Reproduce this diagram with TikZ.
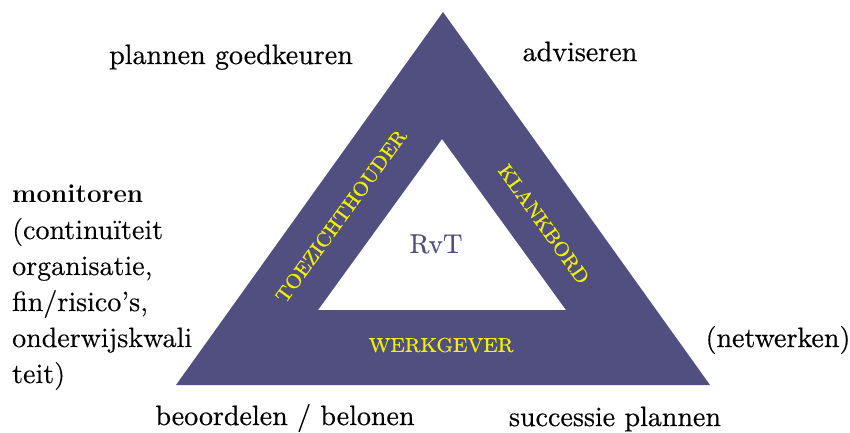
\documentclass[tikz,border=0pt]{standalone}
\usepackage{fontspec}
\newfontfamily\semib{lmroman10-regular.otf}[FakeBold=0.5]
\newfontfamily\regf{lmroman10-regular.otf}[FakeBold=0.2]
\definecolor{rvtpurple}{HTML}{504F7F}
\definecolor{rvtyellow}{HTML}{F2F200}
\newcommand{\bandtext}[1]{\scalebox{1.06}[1]{#1}}
\tikzset{
  lbl/.style={font=\semib\fontsize{28}{30}\selectfont, text=black, inner sep=0pt, anchor=base},
  band/.style={font=\semib\fontsize{20}{22}\selectfont, text=rvtyellow, inner sep=0pt},
  sidel/.style={font=\regf\fontsize{28}{30}\selectfont, text=black, inner sep=0pt, anchor=base west}
}
\begin{document}
\begin{tikzpicture}[x=1pt,y=-1pt]
\useasboundingbox (0,0) rectangle (850,432);
\fill[white] (0,0) rectangle (850,432);
% outer and inner triangles
\coordinate (ot) at (443,12);
\coordinate (ol) at (176,385);
\coordinate (or) at (710,385);
\coordinate (it) at (442,139);
\coordinate (il) at (318,310);
\coordinate (ir) at (566,310);
\fill[rvtpurple, even odd rule] (ot) -- (ol) -- (or) -- cycle (it) -- (il) -- (ir) -- cycle;
% band labels
\node[band, rotate=54] (toe) at (341,216) {\bandtext{TOEZICHTHOUDER}};
\node[band, rotate=-54.5] (kla) at (544,224) {\bandtext{KLANKBORD}};
\node[band] (wer) at (441,345) {\bandtext{WERKGEVER}};
\node[font=\regf\fontsize{27}{30}\selectfont, text=rvtpurple, inner sep=0pt] (rvt) at (436,244) {RvT};
% outer labels
\node[lbl] (plan) at (231,64) {plannen goedkeuren};
\node[lbl] (adv) at (580,61) {adviseren};
\node[lbl] (net) at (778,347) {(netwerken)};
\node[lbl] (beo) at (285,425) {beoordelen / belonen};
\node[lbl] (suc) at (615,426) {successie plannen};
\node[sidel, font=\bfseries\fontsize{26}{30}\selectfont] (mon1) at (12,202) {monitoren};
\node[sidel] (mon2) at (12,239) {(continuïteit};
\node[sidel] (mon3) at (12,275) {organisatie,};
\node[sidel] (mon4) at (12,311) {fin/risico’s,};
\node[sidel] (mon5) at (12,347) {onderwijskwali};
\node[sidel] (mon6) at (12,383) {teit)};
\end{tikzpicture}
\end{document}
